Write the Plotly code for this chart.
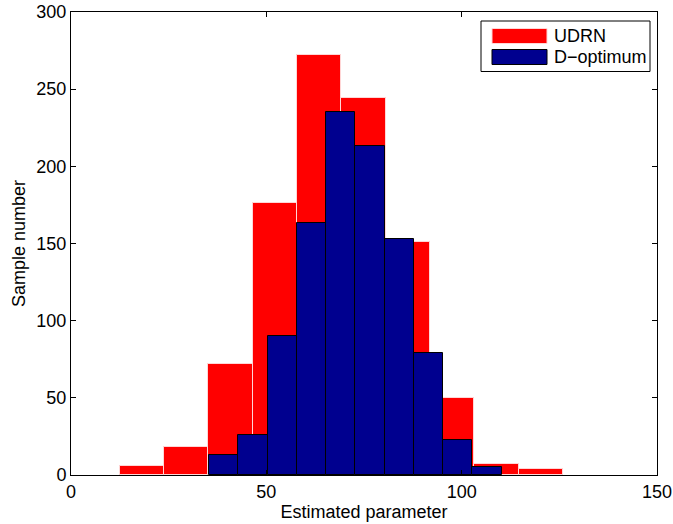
import plotly.graph_objects as go

# Histogram bins (10 bins each) and sample counts per bin
udrn_centers = [18.17, 29.51, 40.85, 52.19, 63.53, 74.87, 86.21, 97.55, 108.89, 120.23]
udrn_counts = [6, 18, 72, 176, 272, 244, 151, 50, 7, 4]
udrn_width = 11.34

dopt_centers = [39.07, 46.56, 54.05, 61.54, 69.03, 76.52, 84.01, 91.50, 98.99, 106.48]
dopt_counts = [13, 26, 90, 163, 235, 213, 153, 79, 23, 5]
dopt_width = 7.49

x_ticks = [0, 50, 100, 150]
y_ticks = [0, 50, 100, 150, 200, 250, 300]

series_names = ["UDRN", "D\u2212optimum"]
red = "#ff0000"
navy = "#00008f"
FONT = "Liberation Sans, Arial, sans-serif"
FS = 18

fig = go.Figure()
fig.add_trace(go.Bar(
    x=udrn_centers, y=udrn_counts, width=[udrn_width] * len(udrn_counts),
    name=series_names[0], marker=dict(color=red, line=dict(color="#ffd6d6", width=1)),
    showlegend=False,
))
fig.add_trace(go.Bar(
    x=dopt_centers, y=dopt_counts, width=[dopt_width] * len(dopt_counts),
    name=series_names[1], marker=dict(color=navy, line=dict(color="#000000", width=1)),
    showlegend=False,
))

axis_common = dict(
    showgrid=False, zeroline=False, showline=True, linecolor="black", linewidth=1,
    mirror="allticks", ticks="inside", ticklen=5, tickcolor="black", tickwidth=1,
    tickfont=dict(family=FONT, size=FS, color="black"), automargin=False,
)

fig.update_layout(
    width=673, height=524,
    margin=dict(l=71, r=16, t=12, b=49),
    paper_bgcolor="white", plot_bgcolor="white",
    barmode="overlay", bargap=0,
    font=dict(family=FONT, size=FS, color="black"),
    xaxis=dict(range=[0, 150], tickvals=x_ticks,
               title=dict(text="Estimated parameter", font=dict(size=FS), standoff=4),
               **axis_common),
    yaxis=dict(range=[0, 300], tickvals=y_ticks,
               title=dict(text="Sample number", font=dict(size=FS), standoff=6),
               **axis_common),
)

# Legend box drawn in paper coordinates (wide swatches)
def px_x(p):
    return (p - 71) / (657 - 71)

def px_y(p):
    return (475 - p) / (475 - 12)

fig.add_shape(type="rect", xref="paper", yref="paper",
              x0=px_x(481), x1=px_x(650), y0=px_y(71.5), y1=px_y(21),
              line=dict(color="black", width=1), fillcolor="white", layer="above")
rows = [(36, red, "#ffd6d6"), (57, navy, "#000000")]
for (cy, fill, edge), label in zip(rows, series_names):
    fig.add_shape(type="rect", xref="paper", yref="paper",
                  x0=px_x(492), x1=px_x(547), y0=px_y(cy + 7.5), y1=px_y(cy - 7.5),
                  line=dict(color=edge, width=1), fillcolor=fill, layer="above")
    fig.add_annotation(xref="paper", yref="paper", x=px_x(552), y=px_y(cy),
                       text=label, showarrow=False, xanchor="left", yanchor="middle",
                       font=dict(family=FONT, size=FS, color="black"))

fig.write_html("out.html")
